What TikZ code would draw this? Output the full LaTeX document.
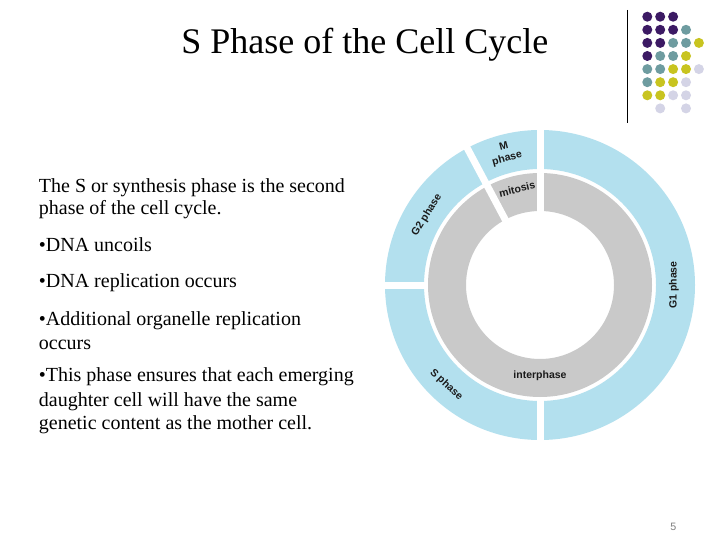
\documentclass[tikz,border=0pt]{standalone}
\usepackage{fontspec}
\setmainfont{Liberation Serif}
\newfontfamily\lsans{Liberation Sans}
\definecolor{ringblue}{HTML}{B3E0EE}
\definecolor{ringgray}{HTML}{C9C9C9}
\definecolor{dotP}{HTML}{3C1A64}
\definecolor{dotT}{HTML}{6E9CA0}
\definecolor{dotY}{HTML}{C8C420}
\definecolor{dotL}{HTML}{D4D4E6}
\definecolor{numgray}{HTML}{7F7F7F}
\definecolor{lbltext}{HTML}{1A1A1A}
\begin{document}
\begin{tikzpicture}[x=1pt,y=1pt,
  body/.style={anchor=base west, inner sep=0pt, font=\fontsize{20}{24}\selectfont},
  lbl/.style={inner sep=0pt, text=lbltext, align=center, font=\lsans\bfseries\fontsize{10.5}{12.3}\selectfont},
  gapline/.style={white, line width=7pt}]
\fill[white] (0,0) rectangle (720,-540);
\useasboundingbox (0,0) rectangle (720,-540);

% title
\node[anchor=base, inner sep=0pt, font=\fontsize{36}{43}\selectfont] (title) at (364.8,-53.3) {S Phase of the Cell Cycle};

% body text
\node[body] (l1) at (38.7,-192.7) {The S or synthesis phase is the second};
\node[body] (l2) at (38.7,-214.3) {phase of the cell cycle.};
\node[body] (l3) at (38.7,-251.7) {•DNA uncoils};
\node[body] (l4) at (38.7,-287.3) {•DNA replication occurs};
\node[body] (l5) at (38.7,-325.0) {•Additional organelle replication};
\node[body] (l6) at (38.7,-349.3) {occurs};
\node[body] (l7) at (38.7,-381.7) {•This phase ensures that each emerging};
\node[body] (l8) at (38.7,-406.0) {daughter cell will have the same};
\node[body] (l9) at (38.7,-429.3) {genetic content as the mother cell.};

% cell cycle diagram
\begin{scope}[shift={(540,-285)}]
  \fill[ringblue, even odd rule] (0,0) circle[radius=155pt] (0,0) circle[radius=116pt];
  \fill[ringgray, even odd rule] (0,0) circle[radius=112pt] (0,0) circle[radius=74pt];
  \draw[gapline] (90:70pt) -- (90:160pt);
  \draw[gapline] (118:70pt) -- (118:160pt);
  \draw[gapline] (180:113.5pt) -- (180:160pt);
  \draw[gapline] (270:113.5pt) -- (270:160pt);
  \node[lbl, rotate=15] (mph) at (104.6:136.4pt) {M\\phase};
  \node[lbl, rotate=13.5] (mit) at (103.5:98.5pt) {mitosis};
  \node[lbl, rotate=58.3] (g2) at (148.3:133pt) {G2 phase};
  \node[lbl, rotate=90] (g1) at (0:134pt) {G1 phase};
  \node[lbl, rotate=-43.2] (sph) at (226.8:137pt) {S phase};
  \node[lbl] (inter) at (270:91pt) {interphase};
\end{scope}

% decorative dots
\draw[line width=1pt] (627.3,-10) -- (627.3,-123);
\foreach \i/\j/\c in {0/0/dotP,1/0/dotP,2/0/dotP,
  0/1/dotP,1/1/dotP,2/1/dotP,3/1/dotT,
  0/2/dotP,1/2/dotP,2/2/dotT,3/2/dotT,4/2/dotY,
  0/3/dotP,1/3/dotT,2/3/dotT,3/3/dotY,
  0/4/dotT,1/4/dotT,2/4/dotY,3/4/dotY,4/4/dotL,
  0/5/dotT,1/5/dotY,2/5/dotY,3/5/dotL,
  0/6/dotY,1/6/dotY,2/6/dotL,3/6/dotL,
  1/7/dotL,3/7/dotL}
  \fill[\c] (647.3+12.9*\i, -16.7-13.1*\j) circle[radius=5pt];

% page number
\node[anchor=base, inner sep=0pt, text=numgray, font=\lsans\fontsize{10.7}{12}\selectfont] (pg) at (673.3,-530) {5};
\end{tikzpicture}
\end{document}
